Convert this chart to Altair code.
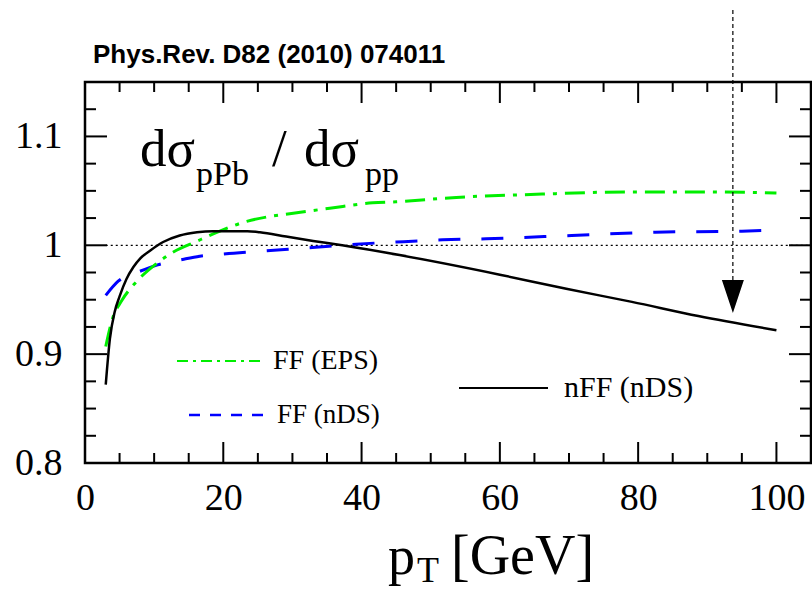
import altair as alt
import pandas as pd

# nuclear modification ratio dσ(pPb)/dσ(pp) versus pT
pt_nff = [3.0, 3.6, 4.3, 5.0, 6.0, 7.0, 8.0, 9.4, 11.3, 13.7, 16.2, 18.5, 21.0,
          23.5, 25.3, 29.1, 33.0, 37.2, 45.5, 60.0, 69.6, 79.1, 88.7, 100.0]
r_nff = [0.872, 0.914, 0.939, 0.953, 0.969, 0.980, 0.988, 0.995, 1.003, 1.009,
         1.012, 1.013, 1.013, 1.013, 1.012, 1.008, 1.004, 1.000, 0.991, 0.973,
         0.960, 0.948, 0.935, 0.922]

pt_eps = [3.0, 4.0, 5.3, 7.5, 10.1, 12.3, 16.3, 19.5, 23.4, 26.3, 29.6, 35.4,
          41.6, 45.0, 53.7, 66.1, 78.2, 90.6, 100.0]
r_eps = [0.907, 0.933, 0.949, 0.967, 0.982, 0.992, 1.004, 1.013, 1.022, 1.026,
         1.029, 1.034, 1.039, 1.040, 1.044, 1.047, 1.049, 1.049, 1.048]

pt_nds = [3.0, 4.8, 7.9, 10.5, 14.1, 16.6, 19.9, 26.3, 32.9, 39.2, 45.0, 51.7,
          58.0, 70.4, 82.5, 95.0, 100.0]
r_nds = [0.954, 0.967, 0.976, 0.982, 0.987, 0.990, 0.992, 0.995, 0.998, 1.001,
         1.003, 1.005, 1.006, 1.009, 1.012, 1.013, 1.014]

# reference level and arrow marker position
ref_pt = [3.0]
ref_r = [1.0]
arrow_pt = [93.7]

# axis ticks
x_major = [0, 20, 40, 60, 80, 100]
x_minor = [5, 10, 15, 25, 30, 35, 45, 50, 55, 65, 70, 75, 85, 90, 95]
y_major = [0.8, 0.9, 1.0, 1.1]
y_minor = [0.825, 0.85, 0.875, 0.925, 0.95, 0.975, 1.025, 1.05, 1.075, 1.125]

W, H = 726, 381
SERIF = "Liberation Serif"

sx = alt.Scale(domain=[0, 105], nice=False, zero=False)
sy = alt.Scale(domain=[0.8, 1.15], nice=False, zero=False)
ax = alt.Axis(values=x_major, title=None, grid=False, ticks=False, domain=False,
              labelFont=SERIF, labelFontSize=38, labelColor="black",
              labelPadding=16, labelFlush=False)
ay = alt.Axis(values=y_major, format=".1~f", title=None, grid=False, ticks=False,
              domain=False, labelFont=SERIF, labelFontSize=38, labelColor="black",
              labelPadding=23, labelFlush=False)


def X(field):
    return alt.X(field, type="quantitative", scale=sx, axis=ax)


def Y(field):
    return alt.Y(field, type="quantitative", scale=sy, axis=ay)


def curve(pt, r, color, width, dash=None):
    df = pd.DataFrame({"pt": pt, "r": r})
    kw = dict(color=color, strokeWidth=width, interpolate="monotone")
    if dash:
        kw["strokeDash"] = dash
    return alt.Chart(df).mark_line(**kw).encode(x=X("pt"), y=Y("r"))


one = pd.DataFrame({"k": [0]})


def label(text, x, y, size, font=SERIF, weight="normal", baseline="alphabetic"):
    return alt.Chart(one).mark_text(
        text=text, align="left", baseline=baseline, font=font, fontSize=size,
        fontWeight=weight, color="black"
    ).encode(x=alt.value(x), y=alt.value(y))


def legend_line(x1, x2, y, color, width, dash=None):
    kw = dict(color=color, strokeWidth=width)
    if dash:
        kw["strokeDash"] = dash
    return alt.Chart(one).mark_rule(**kw).encode(
        x=alt.value(x1), x2=alt.value(x2), y=alt.value(y))


def x_ticks(vals, length):
    df = pd.DataFrame({"v": vals})
    base = alt.Chart(df).mark_rule(color="black", strokeWidth=2)
    return [
        base.encode(x=X("v"), y=alt.value(H), y2=alt.value(H - length)),
        base.encode(x=X("v"), y=alt.value(0), y2=alt.value(length)),
    ]


def y_ticks(vals, length):
    df = pd.DataFrame({"v": vals})
    base = alt.Chart(df).mark_rule(color="black", strokeWidth=2)
    return [
        base.encode(y=Y("v"), x=alt.value(0), x2=alt.value(length)),
        base.encode(y=Y("v"), x=alt.value(W), x2=alt.value(W - length)),
    ]


ref_line = alt.Chart(pd.DataFrame({"pt": ref_pt, "r": ref_r})).mark_rule(
    color="black", strokeWidth=1.3, strokeDash=[2, 3]
).encode(x=X("pt"), y=Y("r"), x2=alt.value(W))

arrow_df = pd.DataFrame({"pt": arrow_pt})
arrow_line = alt.Chart(arrow_df).mark_rule(
    color="black", strokeWidth=1.2, strokeDash=[4, 3]
).encode(x=X("pt"), y=alt.value(-72), y2=alt.value(199))
arrow_head = alt.Chart(arrow_df).mark_point(
    shape="M-1,-1.5L1,-1.5L0,1.5Z", filled=True, size=484, color="black", opacity=1
).encode(x=X("pt"), y=alt.value(214.5))

layers = [
    ref_line,
    curve(pt_nds, r_nds, "#0000ff", 3, [22, 21]),
    curve(pt_eps, r_eps, "#00ee00", 3, [20, 8, 4, 8]),
    curve(pt_nff, r_nff, "black", 2.5),
    arrow_line,
    arrow_head,
    *x_ticks(x_major, 21),
    *x_ticks(x_minor, 10),
    *y_ticks(y_major, 22),
    *y_ticks(y_minor, 11),
    # legend
    legend_line(92, 176, 279, "#00ee00", 2, [11, 5, 3, 5]),
    label("FF (EPS)", 188, 279, 28, baseline="middle"),
    legend_line(104, 183, 333, "#0000ff", 2.5, [11, 10]),
    label("FF (nDS)", 192, 333, 27, baseline="middle"),
    legend_line(374, 463, 306, "black", 2),
    label("nFF (nDS)", 479, 306, 30, baseline="middle"),
    # in-plot ratio label
    label("dσ", 55, 84, 53),
    label("pPb", 111, 103, 34),
    label("/", 187, 84, 53),
    label("dσ", 219, 84, 53),
    label("pp", 280, 103, 34),
    # x-axis title
    label("p", 303, 492, 54),
    label("T", 332, 500, 36),
    label("[GeV]", 366, 492, 56),
    # reference line above the frame
    label("Phys.Rev. D82 (2010) 074011", 8, -19, 26,
          font="Liberation Sans", weight="bold"),
]

chart = alt.layer(*layers).properties(
    width=W,
    height=H,
    autosize=alt.AutoSizeParams(type="none"),
    padding={"left": 85, "top": 82, "right": 1, "bottom": 126},
    background="white",
).configure_view(stroke="black", strokeWidth=2.5)

chart.save("out.html", embed_options={"renderer": "svg", "actions": False})
